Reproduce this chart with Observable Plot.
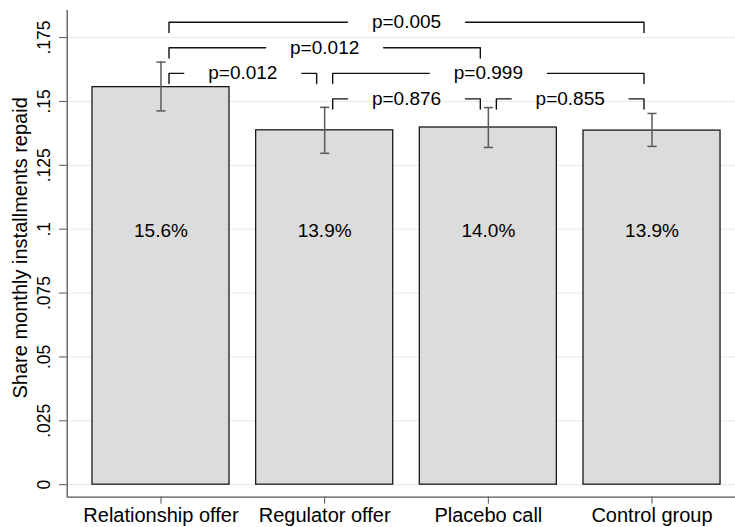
<!DOCTYPE html>
<html><head><meta charset="utf-8">
<script src="https://cdn.jsdelivr.net/npm/d3@7"></script>
<script src="https://cdn.jsdelivr.net/npm/@observablehq/plot@0.6"></script>
<style>html,body{margin:0;padding:0;background:#fff;overflow:hidden}</style>
</head><body><div id="chart"></div>
<script>
const categories = ["Relationship offer", "Regulator offer", "Placebo call", "Control group"];
const shares = [0.1556, 0.1387, 0.1398, 0.1386];
const ciLow = [0.1463, 0.1297, 0.1320, 0.1324];
const ciHigh = [0.1654, 0.1477, 0.1476, 0.1453];
const yTicks = [0, 0.025, 0.05, 0.075, 0.1, 0.125, 0.15, 0.175];
const yTickLabels = ["0", ".025", ".05", ".075", ".1", ".125", ".15", ".175"];
const pFrom = [0, 0, 0, 1, 1, 2];
const pTo = [3, 2, 1, 3, 2, 3];
const pLabels = ["p=0.005", "p=0.012", "p=0.012", "p=0.999", "p=0.876", "p=0.855"];
const pLevels = [0.181, 0.171, 0.161, 0.161, 0.151, 0.151];
const yTitle = "Share monthly installments repaid";

const W = 735, H = 527, mL = 66.7, mT = 10, mB = 30.3;
const xDomain = [-0.573, 3.51], yDomain = [-0.0049, 0.1856];
const barHalf = 0.4186, capHalf = 0.028, endInset = 0.049, gapHalf = 0.3605, drop = 0.004, valueLabelY = 0.0995;
const font = "'Liberation Sans', Arial, Helvetica, sans-serif";

const bars = categories.map((c, i) => ({i, c, share: shares[i], lo: ciLow[i], hi: ciHigh[i], label: d3.format(".1%")(shares[i])}));
const brackets = pLabels.map((t, k) => ({k, a: pFrom[k], b: pTo[k], mid: (pFrom[k] + pTo[k]) / 2, level: pLevels[k], text: t}));
const bracketPts = brackets.flatMap(d => [
  {z: d.k + "L", x: d.a + endInset, y: d.level - drop},
  {z: d.k + "L", x: d.a + endInset, y: d.level},
  {z: d.k + "L", x: d.mid - gapHalf, y: d.level},
  {z: d.k + "R", x: d.mid + gapHalf, y: d.level},
  {z: d.k + "R", x: d.b - endInset, y: d.level},
  {z: d.k + "R", x: d.b - endInset, y: d.level - drop}
]);

const chart = Plot.plot({
  width: W, height: H,
  marginLeft: mL, marginRight: 0, marginTop: mT, marginBottom: mB,
  style: {fontFamily: font, background: "white", color: "black"},
  x: {domain: xDomain},
  y: {domain: yDomain},
  marks: [
    Plot.ruleY(yTicks, {stroke: "#e8e8e8", strokeWidth: 1}),
    Plot.rectY(bars, {x1: d => d.i - barHalf, x2: d => d.i + barHalf, y1: 0, y2: "share", fill: "#dcdcdc", stroke: "#1a1a1a", strokeWidth: 1.3}),
    Plot.ruleX(bars, {x: "i", y1: "lo", y2: "hi", stroke: "#5a5a5a", strokeWidth: 1.5}),
    Plot.link(bars, {x1: d => d.i - capHalf, x2: d => d.i + capHalf, y1: "hi", y2: "hi", stroke: "#5a5a5a", strokeWidth: 1.5}),
    Plot.link(bars, {x1: d => d.i - capHalf, x2: d => d.i + capHalf, y1: "lo", y2: "lo", stroke: "#5a5a5a", strokeWidth: 1.5}),
    Plot.text(bars, {x: "i", y: d => valueLabelY, text: "label", fontSize: 19, fill: "black"}),
    Plot.line(bracketPts, {x: "x", y: "y", z: "z", stroke: "#111", strokeWidth: 1.4}),
    Plot.text(brackets, {x: "mid", y: "level", text: "text", fontSize: 19, fill: "black"}),
    Plot.ruleY([yDomain[0]], {stroke: "#555", strokeWidth: 1.3}),
    Plot.ruleX([xDomain[0]], {stroke: "#555", strokeWidth: 1.3}),
    Plot.axisY({ticks: yTicks, tickSize: 7.7, tickFormat: () => "", stroke: "#555", label: null}),
    Plot.text(yTicks, {y: d => d, text: (d, i) => yTickLabels[i], frameAnchor: "left", rotate: -90, dx: -16.7, lineAnchor: "bottom", textAnchor: "middle", fontSize: 17.5, fill: "black"}),
    Plot.axisX({ticks: [0, 1, 2, 3], tickFormat: i => categories[i], tickSize: 7, tickPadding: 3.5, fontSize: 20, stroke: "#555", fill: "black", label: null}),
    Plot.text([yTitle], {frameAnchor: "left", rotate: -90, dx: -46.7, dy: -6, textAnchor: "middle", text: d => d, fontSize: 20, fill: "black"})
  ]
});
document.getElementById("chart").appendChild(chart);
</script>
</body></html>
